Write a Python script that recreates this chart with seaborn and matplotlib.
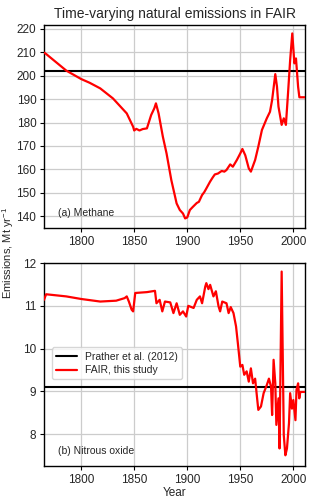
import numpy as np
import pandas as pd
import matplotlib
matplotlib.use("Agg")
import matplotlib.pyplot as plt
import seaborn as sns

# Methane natural emissions (FAIR)
ch4_years = [1765, 1767, 1786, 1800, 1808, 1818, 1830, 1843, 1849, 1850, 1852, 1855,
             1858, 1862, 1866, 1869, 1870.5, 1873, 1877, 1880.5, 1885, 1890, 1893, 1896,
             1898, 1900, 1902.5, 1905, 1907, 1909, 1911, 1914, 1916, 1918, 1921.5, 1924,
             1926, 1929, 1932.5, 1935, 1937, 1940.5, 1943, 1946.8, 1950, 1952, 1954.7,
             1958, 1960, 1964, 1967, 1970.4, 1975, 1978, 1980, 1983, 1984.6, 1986, 1989,
             1991, 1993, 1995, 1997, 1999, 2001, 2002.5, 2004.5, 2005.7, 2011]
ch4_values = [209.9, 209.3, 202.2, 198.6, 197.0, 194.6, 190.3, 183.9, 178.2, 176.6, 177.3, 176.6,
              177.2, 177.5, 183.2, 186.1, 188.2, 183.9, 174.0, 166.8, 155.4, 145.4, 142.6, 141.1,
              139.0, 139.4, 142.6, 143.8, 144.7, 145.6, 146.1, 149.0, 150.2, 151.8, 154.7, 156.5,
              157.8, 158.2, 159.3, 159.0, 159.7, 162.1, 161.1, 164.0, 166.8, 168.7, 166.0,
              160.4, 159.0, 164.0, 169.7, 176.8, 181.8, 184.6, 189.6, 200.7, 195.3, 186.8, 179.0,
              181.8, 179.0, 192.5, 206.7, 218.1, 205.3, 207.4, 195.3, 190.8, 190.8]

# Nitrous oxide natural emissions (FAIR)
n2o_years = [1765, 1767, 1786, 1800, 1818, 1833, 1841, 1843, 1845, 1847.6, 1849, 1851,
             1862, 1869.6, 1871, 1874, 1876.5, 1879, 1884, 1887, 1890, 1893, 1896, 1899,
             1901, 1906, 1909, 1912, 1914, 1917, 1918, 1920, 1921.6, 1924.7, 1927, 1929.5,
             1931, 1933, 1937, 1939, 1941, 1943.6, 1946, 1947.7, 1950, 1952, 1953.7, 1956,
             1958, 1960, 1962, 1964, 1965.7, 1967, 1969.5, 1972, 1975, 1977, 1979, 1980,
             1981.4, 1983, 1984, 1986, 1987, 1989, 1991, 1992.5, 1994, 1995.9, 1997, 1998.7,
             2000, 2002, 2003, 2004.5, 2005.6, 2006.6, 2011]
n2o_values = [11.14, 11.27, 11.22, 11.16, 11.10, 11.12, 11.18, 11.22, 11.10, 10.91, 10.87, 11.30,
              11.32, 11.35, 11.06, 11.14, 10.87, 11.10, 11.08, 10.83, 11.06, 10.79, 10.87, 10.75,
              11.00, 10.95, 11.14, 11.22, 11.06, 11.45, 11.53, 11.39, 11.49, 11.22, 11.34, 10.99,
              10.87, 11.10, 11.06, 10.83, 10.97, 10.83, 10.52, 10.13, 9.58, 9.62, 9.39, 9.47,
              9.23, 9.54, 9.19, 9.30, 8.88, 8.57, 8.65, 8.96, 9.15, 9.30, 9.11, 8.45,
              9.74, 9.19, 8.22, 8.84, 7.67, 11.80, 7.98, 7.51, 7.67, 8.26, 8.96, 8.60,
              8.80, 8.33, 9.04, 9.19, 8.84, 8.99, 8.99]

# Prather et al. (2012) constant values
prather_ch4 = 202.0
prather_n2o = 9.1

panel_labels = ["(a) Methane", "(b) Nitrous oxide"]
x_ticks = [1800, 1850, 1900, 1950, 2000]
ch4_ticks = [140, 150, 160, 170, 180, 190, 200, 210, 220]
n2o_ticks = [8, 9, 10, 11, 12]

sns.set_theme(style="whitegrid")
plt.rcParams["font.family"] = ["Liberation Sans", "DejaVu Sans"]
plt.rcParams["mathtext.fontset"] = "custom"
plt.rcParams["mathtext.rm"] = "Liberation Sans"

fig = plt.figure(figsize=(3.2, 5.01), dpi=100)
ax1 = fig.add_axes([44/320, 1 - 228/501, 261/320, 203/501])
ax2 = fig.add_axes([44/320, 1 - 466/501, 261/320, 203/501])

df_ch4 = pd.DataFrame({"Year": ch4_years, "Emissions": ch4_values})
df_n2o = pd.DataFrame({"Year": n2o_years, "Emissions": n2o_values})

for ax, df, prather, yt, ylim, lab in [
    (ax1, df_ch4, prather_ch4, ch4_ticks, (134.9, 221.7), panel_labels[0]),
    (ax2, df_n2o, prather_n2o, n2o_ticks, (7.26, 12.0), panel_labels[1]),
]:
    ax.axhline(prather, color="black", lw=1.5, label="Prather et al. (2012)", zorder=3)
    sns.lineplot(data=df, x="Year", y="Emissions", ax=ax, color="red", lw=1.6,
                 label="FAIR, this study", zorder=4, legend=False)
    ax.set_xlim(1765, 2011)
    ax.set_ylim(*ylim)
    ax.set_xticks(x_ticks)
    ax.set_yticks(yt)
    ax.grid(True, color="#cccccc", lw=0.9)
    for s in ax.spines.values():
        s.set_color("black")
        s.set_linewidth(1.0)
    ax.tick_params(axis="both", labelsize=8.5, length=3, width=0.8, direction="out",
                   color="black", pad=2.5, left=True, bottom=True)
    ax.set_ylabel("")
    ax.set_xlabel("")
    ax.text(0.055, 0.075, lab, transform=ax.transAxes, fontsize=7.5, va="center", ha="left")

ax1.set_title("Time-varying natural emissions in FAIR", fontsize=10, pad=5)
ax2.set_xlabel("Year", fontsize=8.5, labelpad=1)
leg = ax2.legend(loc="center left", bbox_to_anchor=(0.01, 0.505), fontsize=7.5,
                 frameon=True, fancybox=True, framealpha=0.8, edgecolor="#cccccc",
                 handlelength=2.0, borderpad=0.4, labelspacing=0.35)
fig.text(8/320, 0.495, "Emissions, Mt yr$^{-1}$", rotation=90, va="center", ha="center", fontsize=8)

fig.savefig("out.png", dpi=100)
